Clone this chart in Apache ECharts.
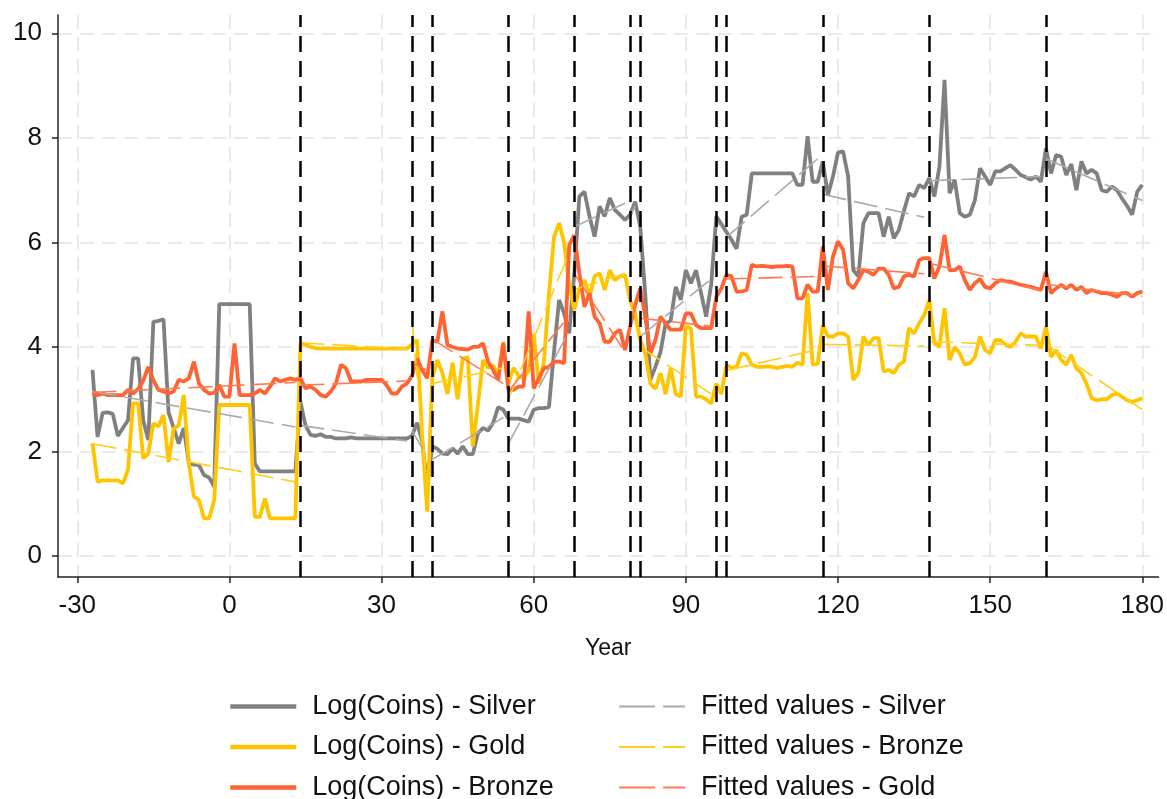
<!DOCTYPE html>
<html><head><meta charset="utf-8">
<script src="https://cdn.jsdelivr.net/npm/echarts@6/dist/echarts.min.js"></script>
<style>html,body{margin:0;padding:0;background:#fff}#c{width:1167px;height:799px}</style>
</head><body><div id="c"></div>
<script>
const startYear = -27;
const silver = [
3.56,2.28,2.74,2.75,2.72,2.30,2.45,2.60,3.78,3.78,
2.60,2.22,4.48,4.50,4.53,2.75,2.45,2.15,2.45,1.78,
1.75,1.74,1.55,1.50,1.33,4.82,4.82,4.82,4.82,4.82,
4.82,4.82,1.77,1.62,1.62,1.62,1.62,1.62,1.62,1.62,
1.62,2.95,2.50,2.32,2.30,2.33,2.28,2.28,2.25,2.25,
2.25,2.27,2.25,2.25,2.25,2.25,2.25,2.25,2.25,2.25,
2.25,2.25,2.25,2.30,2.55,2.20,1.35,2.10,2.05,1.96,
1.95,2.06,1.96,2.10,1.95,1.95,2.35,2.45,2.40,2.55,
2.85,2.80,2.63,2.63,2.63,2.60,2.57,2.80,2.83,2.83,
2.85,3.90,4.90,4.64,4.26,5.40,6.88,6.97,6.50,6.11,
6.69,6.50,6.85,6.62,6.53,6.43,6.53,6.78,6.30,5.00,
3.37,3.62,3.90,4.45,4.50,5.15,4.90,5.47,5.22,5.47,
5.03,4.58,5.20,6.50,6.35,6.20,6.05,5.88,6.49,6.53,
7.32,7.32,7.32,7.32,7.32,7.32,7.32,7.32,7.32,7.10,
7.10,8.03,7.16,7.16,7.55,6.90,7.26,7.72,7.74,7.26,
5.47,5.35,6.37,6.56,6.56,6.56,6.11,6.49,6.08,6.24,
6.60,6.94,6.88,7.10,7.04,7.23,6.88,7.45,9.11,6.94,
7.20,6.56,6.49,6.53,6.81,7.42,7.26,7.10,7.36,7.36,
7.42,7.48,7.39,7.29,7.25,7.20,7.26,7.16,7.80,7.32,
7.67,7.64,7.29,7.50,7.00,7.55,7.32,7.39,7.32,7.00,
6.97,7.07,7.00,6.84,6.70,6.53,6.97,7.10];
const gold = [
2.16,1.42,1.45,1.45,1.45,1.45,1.39,1.65,2.92,2.92,
1.87,1.96,2.54,2.48,2.70,1.80,2.44,2.50,3.08,1.77,
1.14,1.07,0.72,0.72,1.07,2.89,2.89,2.89,2.89,2.89,
2.89,2.89,0.75,0.75,1.10,0.72,0.72,0.72,0.72,0.72,
0.72,4.07,4.05,4.00,3.98,3.97,3.97,3.97,3.97,3.97,
3.97,3.97,3.97,3.97,3.97,3.97,3.97,3.97,3.97,3.97,
3.97,3.97,3.97,4.05,4.13,2.30,0.85,3.40,3.75,3.50,
3.10,3.70,3.00,3.78,3.80,2.10,2.90,3.75,3.60,3.65,
3.45,4.10,3.30,3.60,3.45,3.40,3.55,4.25,3.30,3.70,
5.00,6.10,6.37,6.00,5.20,4.71,5.12,5.28,4.96,5.35,
5.41,5.09,5.47,5.28,5.35,5.38,4.90,4.64,4.13,3.88,
3.30,3.20,3.50,3.10,3.60,3.10,3.05,4.40,4.35,3.05,
3.05,3.00,2.92,3.30,3.10,3.66,3.60,3.62,3.88,3.85,
3.66,3.62,3.62,3.63,3.62,3.60,3.62,3.64,3.62,3.70,
3.66,5.03,3.66,3.68,4.42,4.20,4.20,4.26,4.26,4.20,
3.37,3.50,4.20,4.04,4.17,4.17,3.53,3.56,3.50,3.66,
3.72,4.36,4.26,4.45,4.61,4.90,4.07,4.00,4.74,3.75,
4.00,3.88,3.66,3.69,3.81,4.20,3.94,3.88,4.13,4.13,
4.05,4.00,4.10,4.26,4.20,4.20,4.20,3.97,4.39,3.81,
3.94,3.75,3.66,3.85,3.59,3.50,3.30,3.02,2.98,3.00,
3.00,3.08,3.11,3.05,2.98,2.95,2.98,3.02];
const bronze = [
3.11,3.08,3.11,3.08,3.08,3.08,3.08,3.18,3.11,3.20,
3.35,3.62,3.37,3.18,3.15,3.11,3.15,3.37,3.34,3.40,
3.72,3.30,3.18,3.11,3.12,3.27,3.05,3.05,4.07,3.08,
3.08,3.08,3.11,3.18,3.11,3.24,3.40,3.34,3.37,3.40,
3.37,3.40,3.21,3.24,3.18,3.08,3.05,3.15,3.30,3.66,
3.59,3.34,3.34,3.34,3.37,3.37,3.37,3.37,3.27,3.11,
3.11,3.24,3.30,3.45,3.78,3.56,3.40,4.13,4.10,4.68,
4.04,4.00,3.97,3.96,3.95,4.00,4.00,4.07,3.72,3.56,
3.37,4.07,3.18,3.18,3.24,3.24,4.68,3.21,3.40,3.59,
3.62,3.72,3.72,3.69,5.95,6.14,5.41,4.77,5.03,4.58,
4.45,4.10,4.10,4.26,4.33,3.94,4.39,4.80,5.12,4.58,
3.88,4.13,4.58,4.45,4.33,4.33,4.33,4.64,4.64,4.42,
4.36,4.36,4.36,4.96,5.12,5.38,5.35,5.06,5.06,5.09,
5.57,5.54,5.55,5.54,5.53,5.54,5.54,5.55,5.54,4.93,
4.93,5.19,5.06,5.06,5.92,5.09,5.73,6.02,5.86,5.22,
5.12,5.28,5.47,5.44,5.38,5.50,5.50,5.38,5.12,5.15,
5.35,5.38,5.35,5.66,5.70,5.70,5.31,5.54,6.14,5.47,
5.47,5.54,5.28,5.09,5.22,5.30,5.15,5.12,5.22,5.28,
5.26,5.25,5.22,5.19,5.17,5.15,5.12,5.09,5.44,5.03,
5.12,5.19,5.12,5.19,5.09,5.15,5.03,5.09,5.06,5.03,
5.03,5.00,4.96,5.03,5.03,4.96,5.03,5.06];

const regimeStart = [-27,14,36,40,55,68,79,81,96,98,117,138,161];
const regimeEnd   = [13,35,39,54,67,78,80,95,97,116,137,160,180];
const fitSilverStart = [3.15,2.50,2.40,1.85,2.15,6.30,6.50,4.20,6.40,6.10,6.92,7.18,7.60];
const fitSilverEnd   = [2.47,2.20,1.90,2.65,4.30,6.75,6.70,5.30,6.30,7.60,6.48,7.26,6.80];
const fitYellowStart = [2.15,4.08,4.50,3.30,3.00,5.10,4.80,4.00,3.20,3.55,4.05,4.10,4.05];
const fitYellowEnd   = [1.42,3.96,1.30,3.60,5.80,5.40,4.60,3.10,3.20,3.95,4.02,4.03,2.80];
const fitOrangeStart = [3.13,3.27,3.70,4.15,3.15,5.40,4.40,4.55,5.00,5.30,5.55,5.60,5.20];
const fitOrangeEnd   = [3.32,3.35,3.55,3.30,4.60,3.90,4.80,4.40,5.10,5.35,5.40,5.08,4.97];

const breaks = [14,36,40,55,68,79,81,96,98,117,138,161];
const xTicks = [-30,0,30,60,90,120,150,180];
const yTicks = [0,2,4,6,8,10];
const legendLeftCol = ['Log(Coins) - Silver','Log(Coins) - Gold','Log(Coins) - Bronze'];
const legendRightCol = ['Fitted values - Silver','Fitted values - Bronze','Fitted values - Gold'];

const FONT = "'Liberation Sans', Arial, Helvetica, sans-serif";
const C_SILVER = '#808080', C_GOLD = '#ffc400', C_BRONZE = '#ff6233';
const C_FSILVER = '#aaaaaa', C_FGOLD = '#ffcf1a', C_FBRONZE = '#ff7a50';

function pairs(vals){ return vals.map((v,i)=>[startYear+i, v]); }
function fitted(s,e){
  const out=[];
  for(let k=0;k<regimeStart.length;k++){
    out.push([regimeStart[k], s[k]]);
    out.push([regimeEnd[k], e[k]]);
    out.push([regimeEnd[k]+0.5, '-']);
  }
  return out;
}
function thick(name,color,vals){
  return {name, type:'line', data:pairs(vals), showSymbol:false, symbol:'none',
    lineStyle:{color, width:3.8}, itemStyle:{color}, z:3};
}
function thin(name,color,s,e){
  return {name, type:'line', data:fitted(s,e), showSymbol:false, symbol:'none', connectNulls:false,
    lineStyle:{color, width:1.6, type:[24,8]}, itemStyle:{color}, z:4};
}

const rowTops = [693, 733.5, 774];
function legendItem(name, left, row, extra){
  return Object.assign({
    data:[name], left, top:rowTops[row], orient:'horizontal',
    itemWidth:66, itemHeight:24, padding:0, itemStyle:{opacity:0},
    textStyle:{fontFamily:FONT, fontSize:27, color:'#111', lineHeight:24, padding:[0,0,0,11]},
    selectedMode:false
  }, extra || {});
}
const legends = [];
legendLeftCol.forEach((n,i)=>legends.push(legendItem(n, 228, i, {lineStyle:{width:4.5}})));
legendRightCol.forEach((n,i)=>legends.push(legendItem(n, 618, i, {lineStyle:{type:[36,8], width:2.2}})));

const chart = echarts.init(document.getElementById('c'), null, {renderer:'canvas'});
chart.setOption({
  animation:false,
  backgroundColor:'#fff',
  textStyle:{fontFamily:FONT},
  grid:{left:58, right:7, top:15, bottom:222, containLabel:false},
  legend:legends,
  xAxis:{
    type:'value', min:-33.8, max:183.2,
    name:'Year', nameLocation:'middle', nameGap:60,
    nameTextStyle:{fontFamily:FONT, fontSize:23, color:'#111'},
    axisLine:{show:true, onZero:false, lineStyle:{color:'#222', width:1.5}},
    axisTick:{show:true, customValues:xTicks, length:6, lineStyle:{color:'#222', width:1.5}},
    axisLabel:{customValues:xTicks, fontFamily:FONT, fontSize:26, color:'#111', margin:16},
    splitLine:{show:true, lineStyle:{color:'#e3e3e3', width:1.5, type:[14,8]}}
  },
  yAxis:{
    type:'value', min:-0.4, max:10.35,
    axisLine:{show:true, onZero:false, lineStyle:{color:'#222', width:1.5}},
    axisTick:{show:true, customValues:yTicks, length:6, lineStyle:{color:'#222', width:1.5}},
    axisLabel:{customValues:yTicks, fontFamily:FONT, fontSize:26, color:'#111', margin:16},
    splitLine:{show:true, lineStyle:{color:'#e3e3e3', width:1.5, type:[14,8]}}
  },
  series:[
    thick('Log(Coins) - Silver', C_SILVER, silver),
    thick('Log(Coins) - Gold', C_GOLD, gold),
    thick('Log(Coins) - Bronze', C_BRONZE, bronze),
    thin('Fitted values - Silver', C_FSILVER, fitSilverStart, fitSilverEnd),
    thin('Fitted values - Bronze', C_FGOLD, fitYellowStart, fitYellowEnd),
    thin('Fitted values - Gold', C_FBRONZE, fitOrangeStart, fitOrangeEnd),
    {name:'breaks', type:'line', data:[], z:10, silent:true,
      markLine:{silent:true, symbol:['none','none'], label:{show:false}, animation:false,
        lineStyle:{color:'#000', width:2.5, type:[16,9]},
        data:breaks.map(b=>({xAxis:b}))}}
  ]
});
</script>
</body></html>
